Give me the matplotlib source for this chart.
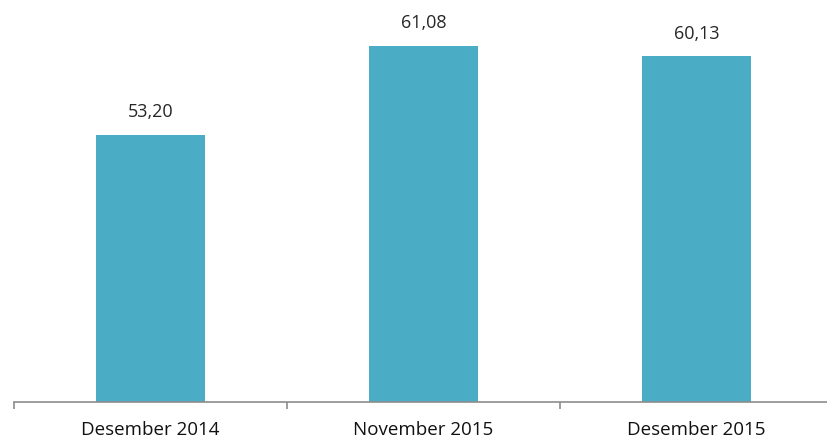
import matplotlib
matplotlib.use("Agg")
import matplotlib.pyplot as plt

categories = ["Desember 2014", "November 2015", "Desember 2015"]
values = [53.20, 61.08, 60.13]
value_labels = ["53,20", "61,08", "60,13"]

fig = plt.figure(figsize=(8.27, 4.4), dpi=100)
ax = fig.add_axes([14/827, 38/440, 1 - 14/827, 402/440])
x = list(range(len(categories)))
bars = ax.bar(x, values, width=0.4, color="#4BACC6", zorder=2)
ax.set_ylim(29.7, 65.1)
ax.set_xlim(-0.5, 2.478)

for xi, v, lab in zip(x, values, value_labels):
    ax.annotate(lab, (xi, v), xytext=(0, 10), textcoords="offset points",
                ha="center", va="bottom", fontsize=13, color="#262626",
                family="Open Sans")

for s in ["top", "right", "left"]:
    ax.spines[s].set_visible(False)
ax.spines["bottom"].set_color("#8c8c8c")
ax.spines["bottom"].set_linewidth(1.2)
ax.set_yticks([])
ax.set_xticks(x)
ax.set_xticklabels(categories, fontsize=13.5, color="#111111", family="Open Sans")
ax.tick_params(axis="x", which="major", length=0, pad=14)
ax.set_xticks([-0.5, 0.5, 1.5], minor=True)
ax.tick_params(axis="x", which="minor", length=5, color="#8c8c8c", width=1.2, direction="out")

fig.savefig("out.png", dpi=100)
